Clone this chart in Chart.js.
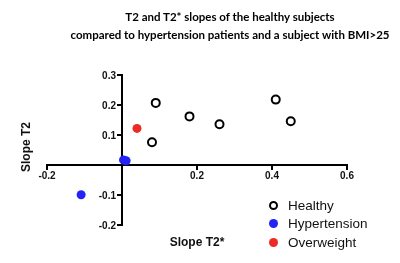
<!DOCTYPE html>
<html lang="en">
<head>
    <meta charset="UTF-8">
    <title>T2 and T2* slopes</title>
    <script src="https://cdn.jsdelivr.net/npm/chart.js"></script>
    <style>
        body { margin: 0; background: #fff; }
        .wrap { position: relative; width: 400px; height: 263px; }
        #title { position: absolute; left: 60px; top: 8px; width: 340px; text-align: center;
                 font-family: Lato, sans-serif; font-weight: 700; font-size: 11.5px; line-height: 17.5px; color: #000; }
        #legend { position: absolute; left: 269px; top: 196px; font-family: 'Liberation Sans', Arial, sans-serif;
                  font-size: 13.5px; color: #111; }
        #legend .row { height: 18.5px; display: flex; align-items: center; }
        #legend .dot { width: 9px; height: 9px; border-radius: 50%; box-sizing: border-box; margin-right: 10px; }
    </style>
</head>
<body>
<div class="wrap">
    <canvas id="chart" width="400" height="263"></canvas>
    <div id="title">T2 and T2* slopes of the healthy subjects<br>compared to hypertension patients and a subject with BMI&gt;25</div>
    <div id="legend"></div>
</div>
<script>
    // values
    const seriesNames = ['Healthy', 'Hypertension', 'Overweight'];
    const healthyX = [0.09, 0.08, 0.18, 0.26, 0.41, 0.45];
    const healthyY = [0.207, 0.076, 0.162, 0.136, 0.218, 0.146];
    const hyperX = [0.004, 0.011, -0.109];
    const hyperY = [0.017, 0.014, -0.099];
    const overX = [0.04];
    const overY = [0.122];
    const xTitle = 'Slope T2*';
    const yTitle = 'Slope T2';

    const pts = (xs, ys) => xs.map((x, i) => ({ x: x, y: ys[i] }));

    const fontFamily = "'Liberation Sans', Arial, sans-serif";
    const tickFont = { family: fontFamily, size: 10, weight: 'bold' };
    const noZero = v => Math.abs(v) < 1e-9 ? '' : parseFloat(v.toFixed(1)).toString();

    // axis titles sit away from the centred axes, and the y labels need to clear
    // the tick marks, so draw those by hand from the scales
    const axisText = {
        id: 'axisText',
        afterDraw(chart) {
            const { ctx, chartArea, scales } = chart;
            ctx.save();
            ctx.fillStyle = '#111';
            ctx.font = 'bold 10px ' + fontFamily;
            ctx.textAlign = 'right';
            ctx.textBaseline = 'middle';
            const axisX = scales.x.getPixelForValue(0);
            scales.y.ticks.forEach(t => {
                const label = noZero(t.value);
                if (label) ctx.fillText(label, axisX - 6, scales.y.getPixelForValue(t.value) + 1);
            });
            ctx.font = 'bold 12px ' + fontFamily;
            ctx.textAlign = 'center';
            ctx.fillText(xTitle, (chartArea.left + chartArea.right) / 2, chartArea.bottom + 18);
            ctx.translate(chartArea.left - 20, (chartArea.top + chartArea.bottom) / 2 - 3);
            ctx.rotate(-Math.PI / 2);
            ctx.fillText(yTitle, 0, 0);
            ctx.restore();
        }
    };

    const chart = new Chart(document.getElementById('chart'), {
        type: 'scatter',
        data: {
            datasets: [
                { label: seriesNames[0], data: pts(healthyX, healthyY), backgroundColor: '#fff',
                  borderColor: '#000', borderWidth: 2, pointRadius: 4 },
                { label: seriesNames[1], data: pts(hyperX, hyperY), backgroundColor: '#2323f5',
                  borderColor: '#2323f5', borderWidth: 0, pointRadius: 4.5 },
                { label: seriesNames[2], data: pts(overX, overY), backgroundColor: '#ee2a24',
                  borderColor: '#ee2a24', borderWidth: 0, pointRadius: 4.5 }
            ]
        },
        options: {
            responsive: false,
            animation: false,
            layout: { padding: { left: 47, right: 53, top: 75, bottom: 38 } },
            plugins: { legend: { display: false }, title: { display: false }, tooltip: { enabled: false } },
            scales: {
                x: {
                    type: 'linear', min: -0.2, max: 0.6, position: { y: 0 },
                    grid: { drawOnChartArea: false, drawTicks: true, tickLength: 4, color: '#000', lineWidth: 2 },
                    border: { display: true, color: '#000', width: 2 },
                    ticks: { stepSize: 0.2, color: '#111', font: tickFont, padding: 1, maxRotation: 0, callback: noZero }
                },
                y: {
                    type: 'linear', min: -0.2, max: 0.3, position: { x: 0 },
                    grid: { drawOnChartArea: false, drawTicks: true, tickLength: 4, color: '#000', lineWidth: 2 },
                    border: { display: true, color: '#000', width: 2 },
                    ticks: { stepSize: 0.1, color: 'rgba(0,0,0,0)', font: tickFont }
                }
            }
        },
        plugins: [axisText]
    });

    // legend built from the datasets
    const legend = document.getElementById('legend');
    chart.data.datasets.forEach(ds => {
        const row = document.createElement('div');
        row.className = 'row';
        const dot = document.createElement('span');
        dot.className = 'dot';
        dot.style.background = ds.backgroundColor;
        dot.style.border = ds.borderWidth ? '2px solid ' + ds.borderColor : 'none';
        row.appendChild(dot);
        row.appendChild(document.createTextNode(ds.label));
        legend.appendChild(row);
    });
</script>
</body>
</html>
